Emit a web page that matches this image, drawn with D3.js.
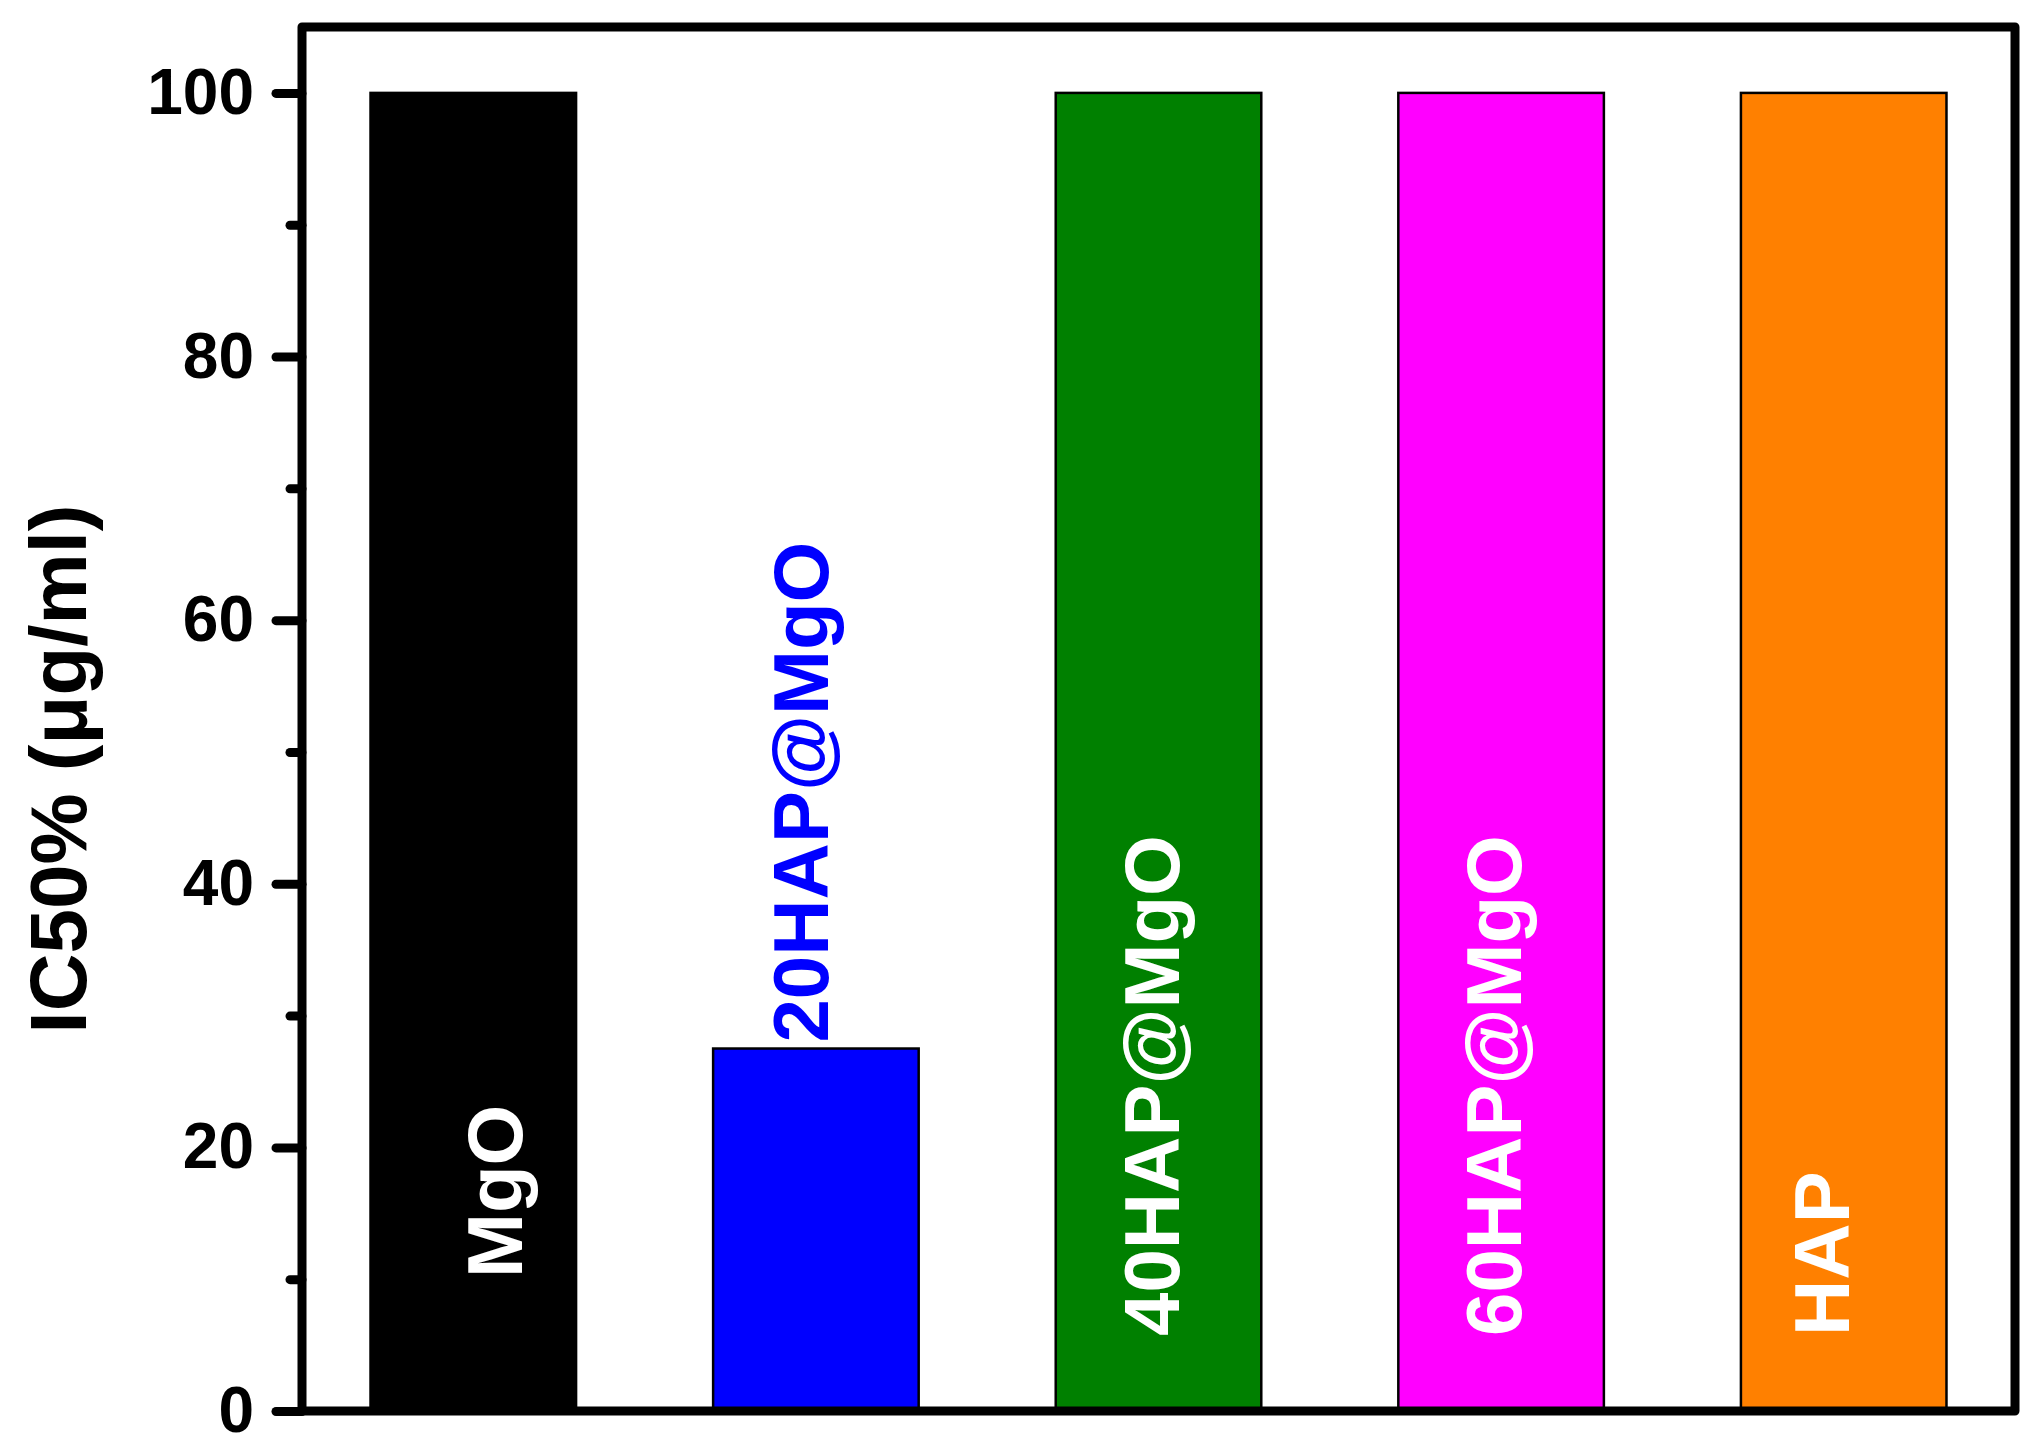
<!DOCTYPE html>
<html lang="en">
<head>
    <meta charset="UTF-8">
    <title>IC50</title>
    <style>
        body { margin: 0; background: #fff; }
        svg { display: block; }
        text { font-family: Arial, "Liberation Sans", sans-serif; font-weight: bold; }
    </style>
    <script src="https://d3js.org/d3.v7.min.js"></script>
</head>
<body>
    <div id="svg"></div>
    <script>
        const { boxWidth, boxHeight } = { boxWidth: 2044, boxHeight: 1456 }
        const { frameLeft, frameRight, frameTop, frameBottom } = { frameLeft: 302, frameRight: 2015, frameTop: 27, frameBottom: 1411 }

        // data
        const samples = ["MgO", "20HAP@MgO", "40HAP@MgO", "60HAP@MgO", "HAP"]
        const ic50 = [100, 27.5, 100, 100, 100]
        const barColors = ["#000000", "#0000ff", "#008000", "#ff00ff", "#ff8000"]
        const labelColors = ["#ffffff", "#0000ff", "#ffffff", "#ffffff", "#ffffff"]
        const majorTicks = [0, 20, 40, 60, 80, 100]
        const minorTicks = [10, 30, 50, 70, 90]
        const yAxisLabel = "IC50% (μg/ml)"

        // labels are not placed quite the same in each bar: [dx, lift]
        const labelNudge = { "MgO": [29, 58], "20HAP@MgO": [-8, 0], "HAP": [-15, 0] }

        const svg = d3.select("#svg").append("svg")
            .attr("width", boxWidth).attr("height", boxHeight)

        const xScale = d3.scaleBand()
            .domain(samples)
            .range([frameLeft, frameRight])
            .paddingInner(0.4)
            .paddingOuter(0.2)

        const yScale = d3.scaleLinear()
            .domain([0, 105])
            .range([frameBottom, frameTop])

        const data = samples.map((s, i) => ({ name: s, value: ic50[i], color: barColors[i], label: labelColors[i] }))

        // bars
        svg.append("g").selectAll("rect").data(data).enter().append("rect")
            .attr("x", d => xScale(d.name))
            .attr("y", d => yScale(d.value))
            .attr("width", xScale.bandwidth())
            .attr("height", d => yScale(0) - yScale(d.value))
            .attr("fill", d => d.color)
            .attr("stroke", "#000")
            .attr("stroke-width", 2.5)

        // labels, rotated, text starts from the bottom
        svg.append("g").selectAll("text").data(data).enter().append("text")
            .attr("transform", d => {
                const [dx, lift] = labelNudge[d.name] || [0, 0]
                const cx = xScale(d.name) + xScale.bandwidth() / 2 + 20 + dx
                let y
                if (d.value < 50) {
                    y = yScale(d.value) - 6
                } else {
                    y = yScale(0) - 75 - lift
                }
                return `translate(${cx}, ${y}) rotate(-90)`
            })
            .attr("text-anchor", "start")
            .attr("font-size", 78)
            .attr("fill", d => d.label)
            .text(d => d.name)

        // minor ticks
        const yMinor = d3.axisLeft(yScale).tickValues(minorTicks).tickSize(12).tickFormat("")
        const minorG = svg.append("g").attr("transform", `translate(${frameLeft}, 0)`).call(yMinor)

        // major ticks
        const yMajor = d3.axisLeft(yScale).tickValues(majorTicks).tickSize(26).tickPadding(22)
        const majorG = svg.append("g").attr("transform", `translate(${frameLeft}, 0)`).call(yMajor)

        ;[minorG, majorG].forEach(g => {
            g.select(".domain").remove()
            g.selectAll("line").attr("stroke", "#000").attr("stroke-width", 9).attr("stroke-linecap", "round")
        })
        majorG.selectAll("text")
            .attr("font-size", 64)
            .attr("fill", "#000")
            .attr("font-family", "Arial, 'Liberation Sans', sans-serif")

        // frame
        svg.append("rect")
            .attr("x", frameLeft).attr("y", frameTop)
            .attr("width", frameRight - frameLeft).attr("height", frameBottom - frameTop)
            .attr("fill", "none")
            .attr("stroke", "#000")
            .attr("stroke-width", 9)
            .attr("stroke-linejoin", "round")

        // y label
        svg.append("text")
            .attr("transform", `translate(86, ${(frameTop + frameBottom) / 2 + 50}) rotate(-90)`)
            .attr("text-anchor", "middle")
            .attr("font-size", 80)
            .attr("fill", "#000")
            .text(yAxisLabel)
    </script>
</body>
</html>
